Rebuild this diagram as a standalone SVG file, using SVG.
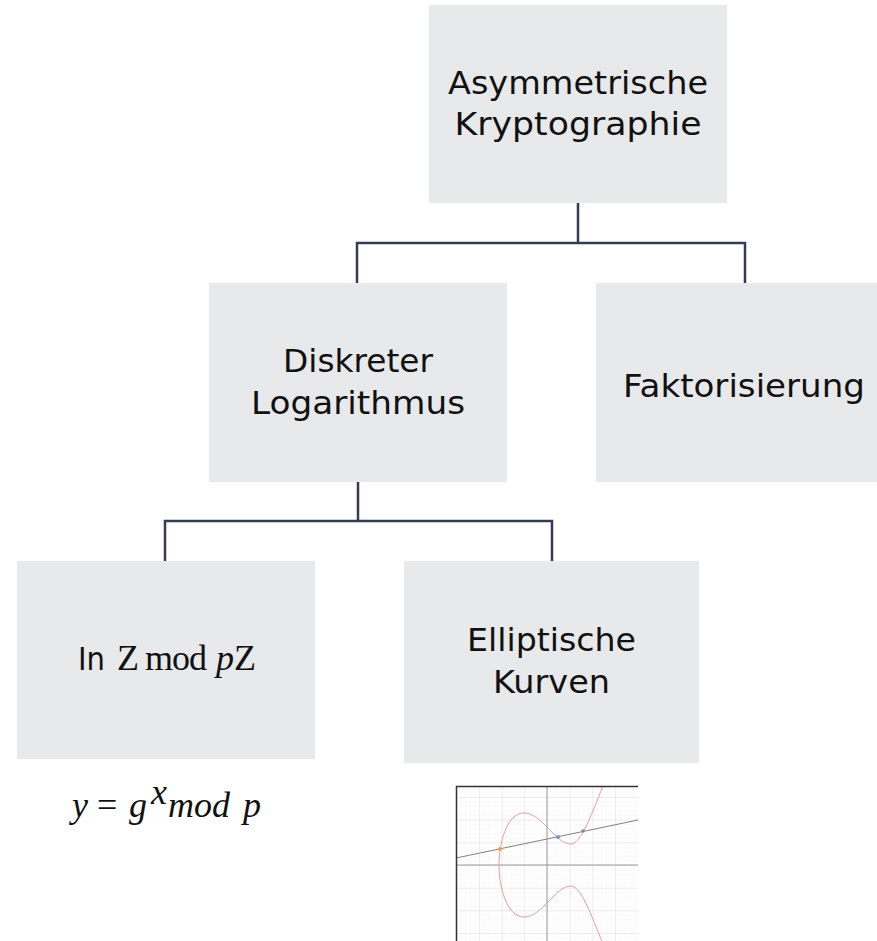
<svg xmlns="http://www.w3.org/2000/svg" width="877" height="941" viewBox="0 0 877 941">
  <defs>
    <style>
      .box { fill: #e8e9eb; }
      .lbl { font-family: "DejaVu Sans", "Liberation Sans", sans-serif; font-size: 32px; fill: #111; text-anchor: middle; }
      .sans { font-family: "DejaVu Sans", "Liberation Sans", sans-serif; font-size: 32px; fill: #111; }
      .math { font-family: "Liberation Serif", "DejaVu Serif", serif; font-size: 36px; fill: #111; }
      .it { font-style: italic; }
      .conn { fill: none; stroke: #333c52; stroke-width: 2.5; }
      .minor { stroke: #efefef; stroke-width: 0.6; }
      .major { stroke: #d6d6d6; stroke-width: 0.8; }
    </style>
    <pattern id="gridMinor" x="547" y="865" width="4.54" height="4.54" patternUnits="userSpaceOnUse">
      <path d="M0 0 H4.54 M0 0 V4.54" class="minor"/>
    </pattern>
    <pattern id="gridMajor" x="547" y="865" width="22.7" height="22.7" patternUnits="userSpaceOnUse">
      <path d="M0 0 H22.7 M0 0 V22.7" class="major"/>
    </pattern>
    <clipPath id="graphClip">
      <rect x="456" y="786" width="182" height="160"/>
    </clipPath>
  </defs>

  <rect width="877" height="941" fill="#ffffff"/>

  <g id="connectors">
    <path class="conn" d="M578 203 V243 M357 283 V243 H745 V283"/>
    <path class="conn" d="M358 482 V521 M165 561 V521 H552 V561"/>
  </g>

  <g id="node-asym">
    <rect class="box" x="429" y="5" width="298" height="198"/>
    <text class="lbl" x="578" y="94" textLength="260" lengthAdjust="spacingAndGlyphs">Asymmetrische</text>
    <text class="lbl" x="578" y="135" textLength="247" lengthAdjust="spacingAndGlyphs">Kryptographie</text>
  </g>

  <g id="node-dlog">
    <rect class="box" x="209" y="283" width="298" height="199"/>
    <text class="lbl" x="358" y="372" textLength="150" lengthAdjust="spacingAndGlyphs">Diskreter</text>
    <text class="lbl" x="358" y="414" textLength="214" lengthAdjust="spacingAndGlyphs">Logarithmus</text>
  </g>

  <g id="node-fakt">
    <rect class="box" x="596" y="283" width="298" height="199"/>
    <text class="lbl" x="744" y="397" textLength="242" lengthAdjust="spacingAndGlyphs">Faktorisierung</text>
  </g>

  <g id="node-zmod">
    <rect class="box" x="17" y="561" width="298" height="198"/>
    <text class="sans" x="78" y="670" textLength="27" lengthAdjust="spacingAndGlyphs">In</text>
    <text class="math" x="117" y="670">Z</text>
    <text class="math" x="145" y="670" textLength="62" lengthAdjust="spacing">mod</text>
    <text class="math it" x="216" y="670">p</text>
    <text class="math" x="234" y="670">Z</text>
  </g>

  <g id="node-ec">
    <rect class="box" x="404" y="561" width="295" height="202"/>
    <text class="lbl" x="551.5" y="651" textLength="169" lengthAdjust="spacingAndGlyphs">Elliptische</text>
    <text class="lbl" x="551.5" y="693" textLength="117" lengthAdjust="spacingAndGlyphs">Kurven</text>
  </g>

  <g id="formula">
    <text class="math it" x="72" y="817" font-size="38">y</text>
    <text class="math" x="97" y="817" font-size="38">=</text>
    <text class="math it" x="129" y="817" font-size="38">g</text>
    <text class="math it" x="151" y="804" font-size="22">x</text>
    <text class="math it" x="168" y="817" font-size="38">mod</text>
    <text class="math it" x="243" y="817" font-size="38">p</text>
  </g>

  <g id="ec-graph">
    <g clip-path="url(#graphClip)">
      <rect x="456" y="786" width="182" height="160" fill="#ffffff"/>
      <rect x="456" y="786" width="182" height="160" fill="url(#gridMinor)"/>
      <rect x="456" y="786" width="182" height="160" fill="url(#gridMajor)"/>
      <path d="M456 865 H638 M547 786 V946" stroke="#9a9a9a" stroke-width="1"/>
      <path d="M456 858 L638 820" stroke="#808080" stroke-width="1"/>
      <path d="M499 865 C499 845 506 813 524 813 C542 813 555 843 570 844 C581 845 591 815 603 786" fill="none" stroke="#e2a0a0" stroke-width="1"/>
      <path d="M499 865 C499 885 506 917 524 917 C542 917 555 887 570 886 C581 885 591 915 603 944" fill="none" stroke="#e2a0a0" stroke-width="1"/>
      <circle cx="500" cy="849" r="2" fill="#f0a040"/>
      <circle cx="558" cy="837" r="2" fill="#6a9ad0"/>
      <circle cx="583" cy="831" r="1.8" fill="#888888"/>
    </g>
    <path d="M456.5 946 V786.5 H638" fill="none" stroke="#333333" stroke-width="1.5"/>
  </g>
</svg>
